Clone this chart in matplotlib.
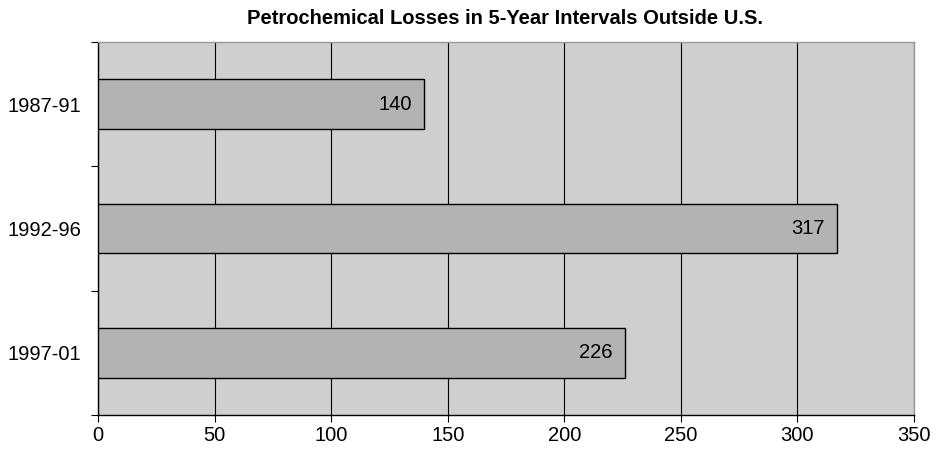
import matplotlib.pyplot as plt
import numpy as np

plt.rcParams['font.family'] = ['Liberation Sans', 'DejaVu Sans']

periods = ['1987-91', '1992-96', '1997-01']
losses = [140, 317, 226]
x_ticks = [0, 50, 100, 150, 200, 250, 300, 350]

fig = plt.figure(figsize=(9.37, 4.5), dpi=100)
ax = fig.add_axes([98 / 937, 1 - 415 / 450, (914 - 98) / 937, (415 - 42) / 450])
ax.set_facecolor('#cfcfcf')

pos = np.arange(len(periods))
bars = ax.barh(pos, losses, height=0.4, color='#b3b3b3', edgecolor='black', linewidth=1.0, zorder=3)

for b, v in zip(bars, losses):
    ax.text(b.get_width() - 5.5, b.get_y() + b.get_height() / 2, str(v),
            ha='right', va='center', fontsize=14.5, zorder=4)

ax.set_xlim(0, 350)
ax.set_ylim(2.5, -0.5)
ax.set_xticks(x_ticks)
ax.set_yticks(pos)
ax.set_yticklabels(periods)
ax.set_yticks([-0.5, 0.5, 1.5, 2.5], minor=True)
ax.tick_params(axis='y', which='major', length=0, pad=12, labelsize=14.5)
ax.tick_params(axis='y', which='minor', length=5, width=0.8, direction='out')
ax.tick_params(axis='x', length=5, width=0.8, direction='out', labelsize=14.5, pad=3)

ax.grid(axis='x', color='black', linewidth=0.8, zorder=1)
ax.set_axisbelow(True)

for s in ['left', 'bottom']:
    ax.spines[s].set_color('black')
    ax.spines[s].set_linewidth(1.0)
for s in ['top', 'right']:
    ax.spines[s].set_color('#999999')
    ax.spines[s].set_linewidth(1.0)

fig.text(505 / 937, 1 - 19 / 450, 'Petrochemical Losses in 5-Year Intervals Outside U.S.',
         ha='center', va='center', fontsize=14.5, fontweight='bold')

fig.savefig('out.png', dpi=100)
